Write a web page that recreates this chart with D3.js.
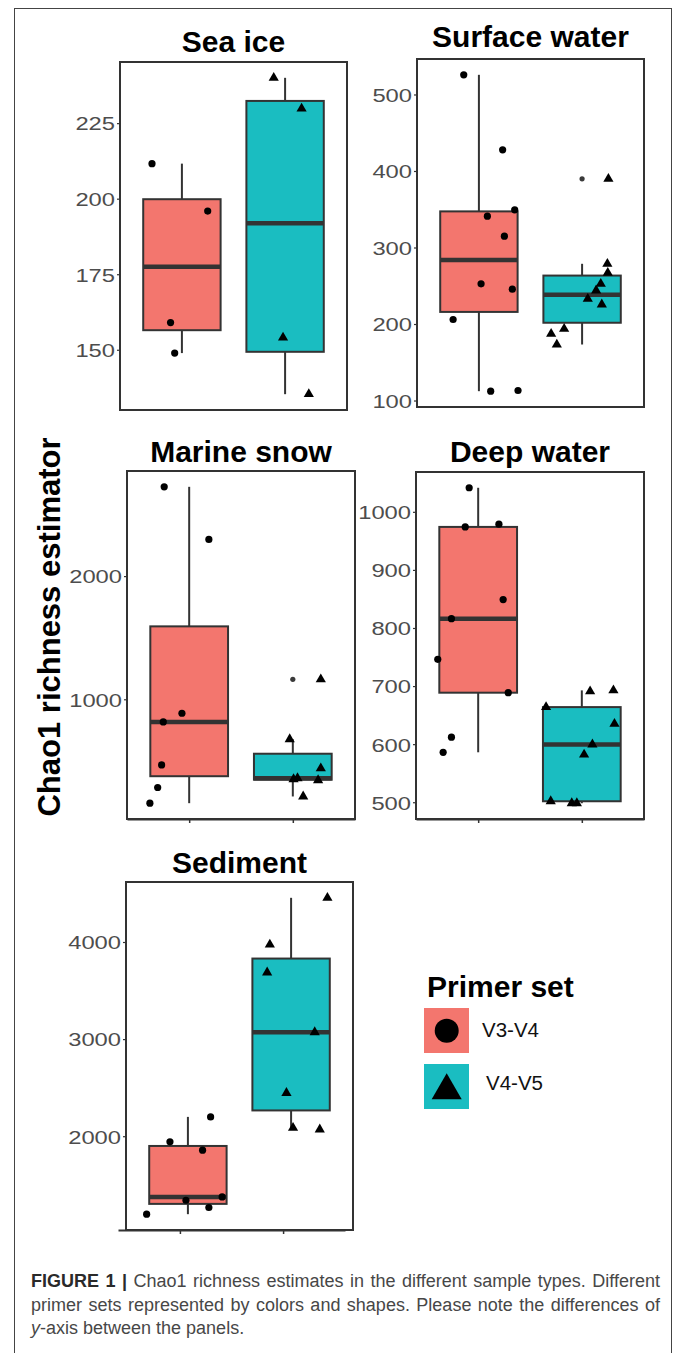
<!DOCTYPE html>
<html>
<head>
<meta charset="utf-8">
<script src="https://cdn.jsdelivr.net/npm/d3@7"></script>
<style>
  body { margin: 0; background: #fff; }
  svg { display: block; font-family: "Liberation Sans", Arial, sans-serif; }
</style>
</head>
<body>
<div id="chart"></div>
<script>
// ---- data ----
var primerSets = ["V3-V4", "V4-V5"];
var sampleTypes = ["Sea ice", "Surface water", "Marine snow", "Deep water", "Sediment"];

// Chao1 estimates, [V3-V4, V4-V5]
var seaIce = [[211.6, 195.9, 159, 148.9], [240, 229.8, 154, 135.3]];
var surfaceWater = [[525.7, 427.7, 349.3, 340.9, 314.8, 252.5, 245.5, 205.9, 112.2, 113.1],
                    [389.8, 278.7, 266.9, 252.5, 243.8, 232.9, 225.5, 193.7, 187.2, 173.2]];
var marineSnow = [[2725, 2297.6, 886.5, 816, 467, 283.9, 156.5],
                  [1162, 676, 440, 359, 351, 343, 211]];
var deepWater = [[1041.4, 974, 978.8, 849, 816, 746, 688.6, 612, 586],
                 [691, 692.6, 663.8, 635, 599.5, 582, 501.7, 498.3, 498.3]];
var sediment = [[2199, 1942.6, 1856.4, 1374.4, 1340.5, 1265.6, 1197],
                [4455, 3973, 3686, 3071, 2445, 2086, 2069]];

// horizontal jitter of each point, in category units
var seaIceJitter = [[-0.29, 0.25, -0.11, -0.07], [-0.11, 0.16, -0.02, 0.23]];
var surfaceWaterJitter = [[-0.147, 0.23, 0.347, 0.082, 0.247, 0.021, 0.324, -0.25, 0.114, 0.379],
                          [0.255, 0.245, 0.249, 0.181, 0.136, 0.055, 0.191, -0.174, -0.3, -0.245]];
var marineSnowJitter = [[-0.241, 0.19, -0.07, -0.25, -0.266, -0.304, -0.379],
                        [0.27, -0.03, 0.27, 0.045, 0.007, 0.244, 0.1]];
var deepWaterJitter = [[-0.087, -0.125, 0.2, 0.241, -0.258, -0.39, 0.29, -0.258, -0.338],
                       [0.08, 0.305, -0.345, 0.315, 0.102, 0.022, -0.3, -0.097, -0.048]];
var sedimentJitter = [[0.22, -0.174, 0.142, 0.332, -0.019, 0.203, -0.4],
                      [0.352, -0.206, -0.232, 0.229, -0.045, 0.019, 0.278]];

// y tick labels
var seaIceTicks = [150, 175, 200, 225];
var surfaceWaterTicks = [100, 200, 300, 400, 500];
var marineSnowTicks = [1000, 2000];
var deepWaterTicks = [500, 600, 700, 800, 900, 1000];
var sedimentTicks = [2000, 3000, 4000];

var yLabel = "Chao1 richness estimator";
var legendTitle = "Primer set";

// ---- layout ----
var width = 673, height = 1353;
var colors = ["#F3766E", "#1ABDC1"];
var ink = "#333333";

var panels = [
  { name: sampleTypes[0], values: seaIce, jitter: seaIceJitter, ticks: seaIceTicks,
    x0: 120, x1: 347, y0: 62, y1: 410, titleY: 52, xAxis: false },
  { name: sampleTypes[1], values: surfaceWater, jitter: surfaceWaterJitter, ticks: surfaceWaterTicks,
    x0: 417, x1: 644, y0: 59, y1: 407, titleY: 47, xAxis: false },
  { name: sampleTypes[2], values: marineSnow, jitter: marineSnowJitter, ticks: marineSnowTicks,
    x0: 127, x1: 355, y0: 471, y1: 819, titleY: 462, xAxis: true, xShift: 0 },
  { name: sampleTypes[3], values: deepWater, jitter: deepWaterJitter, ticks: deepWaterTicks,
    x0: 416, x1: 644, y0: 472, y1: 819, titleY: 462, xAxis: true, xShift: 0 },
  { name: sampleTypes[4], values: sediment, jitter: sedimentJitter, ticks: sedimentTicks,
    x0: 126, x1: 353, y0: 882, y1: 1230, titleY: 873, xAxis: true, xShift: -8 }
];

var svg = d3.select("#chart").append("svg")
  .attr("width", width).attr("height", height);

svg.append("rect").attr("width", width).attr("height", height).attr("fill", "#fff");

// outer figure frame
svg.append("rect")
  .attr("x", 14.5).attr("y", 8.5).attr("width", 657).attr("height", 1360)
  .attr("fill", "none").attr("stroke", "#444").attr("stroke-width", 1);

// ggplot style box statistics
function boxStats(vals) {
  var s = vals.slice().sort(d3.ascending);
  var q1 = d3.quantileSorted(s, 0.25), med = d3.quantileSorted(s, 0.5), q3 = d3.quantileSorted(s, 0.75);
  var iqr = q3 - q1;
  var lo = d3.min(s.filter(function (v) { return v >= q1 - 1.5 * iqr; }));
  var hi = d3.max(s.filter(function (v) { return v <= q3 + 1.5 * iqr; }));
  var out = s.filter(function (v) { return v < lo || v > hi; });
  return { q1: q1, med: med, q3: q3, lo: lo, hi: hi, out: out };
}

var triangle = d3.symbol().type(d3.symbolTriangle).size(45);

panels.forEach(function (p) {
  var g = svg.append("g").attr("class", "panel");

  var all = d3.merge(p.values);
  var ext = d3.extent(all);
  var pad = (ext[1] - ext[0]) * 0.05;

  var x = d3.scaleLinear().domain([0.4, 2.6]).range([p.x0, p.x1]);
  var y = d3.scaleLinear().domain([ext[0] - pad, ext[1] + pad]).range([p.y1, p.y0]);

  g.append("text")
    .attr("x", (p.x0 + p.x1) / 2).attr("y", p.titleY)
    .attr("text-anchor", "middle")
    .attr("font-size", 30).attr("font-weight", "bold").attr("fill", "#000")
    .text(p.name);

  p.values.forEach(function (vals, i) {
    var st = boxStats(vals);
    var cx = x(i + 1);
    var half = x(i + 1 + 0.375) - cx;

    // whiskers
    g.append("line").attr("x1", cx).attr("x2", cx)
      .attr("y1", y(st.hi)).attr("y2", y(st.q3))
      .attr("stroke", ink).attr("stroke-width", 2);
    g.append("line").attr("x1", cx).attr("x2", cx)
      .attr("y1", y(st.q1)).attr("y2", y(st.lo))
      .attr("stroke", ink).attr("stroke-width", 2);

    g.append("rect")
      .attr("x", cx - half).attr("width", half * 2)
      .attr("y", y(st.q3)).attr("height", y(st.q1) - y(st.q3))
      .attr("fill", colors[i]).attr("stroke", ink).attr("stroke-width", 2);

    g.append("line")
      .attr("x1", cx - half).attr("x2", cx + half)
      .attr("y1", y(st.med)).attr("y2", y(st.med))
      .attr("stroke", ink).attr("stroke-width", 4.5);

    // boxplot outliers
    g.selectAll(null).data(st.out).enter().append("circle")
      .attr("cx", cx).attr("cy", function (d) { return y(d); })
      .attr("r", 2.6).attr("fill", "#3a3a3a");

    // jittered points
    var pts = vals.map(function (v, k) { return { v: v, j: p.jitter[i][k] }; });
    if (i === 0) {
      g.selectAll(null).data(pts).enter().append("circle")
        .attr("cx", function (d) { return x(i + 1 + d.j); })
        .attr("cy", function (d) { return y(d.v); })
        .attr("r", 3.6).attr("fill", "#000");
    } else {
      g.selectAll(null).data(pts).enter().append("path")
        .attr("d", triangle)
        .attr("transform", function (d) { return "translate(" + x(i + 1 + d.j) + "," + y(d.v) + ")"; })
        .attr("fill", "#000");
    }
  });

  // panel border
  g.append("rect")
    .attr("x", p.x0).attr("y", p.y0)
    .attr("width", p.x1 - p.x0).attr("height", p.y1 - p.y0)
    .attr("fill", "none").attr("stroke", ink).attr("stroke-width", 2);

  // y axis
  var yAxis = d3.axisLeft(y).tickValues(p.ticks).tickSize(3).tickFormat(d3.format("d"));
  var ya = g.append("g").attr("transform", "translate(" + p.x0 + ",0)").call(yAxis);
  ya.select(".domain").remove();
  ya.selectAll(".tick line").attr("stroke", ink).attr("stroke-width", 1.2);
  ya.selectAll(".tick text")
    .attr("x", -4).attr("dy", "0.36em")
    .attr("transform", "scale(1.25,1)")
    .attr("font-family", "Liberation Sans, Arial, sans-serif")
    .attr("font-size", 19).attr("fill", "#4D4D4D");

  // x axis ticks (no labels)
  if (p.xAxis) {
    var xAxis = d3.axisBottom(x).tickValues([1, 2]).tickSize(4).tickSizeOuter(0).tickFormat("");
    var xa = g.append("g").attr("transform", "translate(" + p.xShift + "," + p.y1 + ")").call(xAxis);
    xa.select(".domain").attr("stroke", ink).attr("stroke-width", 2);
    xa.selectAll(".tick line").attr("stroke", ink).attr("stroke-width", 1.5);
  }
});

// shared y axis title
svg.append("text")
  .attr("transform", "translate(60,627) rotate(-90)")
  .attr("text-anchor", "middle")
  .attr("font-size", 31).attr("font-weight", "bold").attr("fill", "#000")
  .text(yLabel);

// legend
var legend = svg.append("g").attr("class", "legend");
legend.append("text")
  .attr("x", 427).attr("y", 997)
  .attr("font-size", 30).attr("font-weight", "bold").attr("fill", "#000")
  .text(legendTitle);

var keys = legend.selectAll("g.key").data(primerSets).enter().append("g")
  .attr("class", "key")
  .attr("transform", function (d, i) { return "translate(424," + (1008 + i * 56) + ")"; });
keys.append("rect").attr("width", 45).attr("height", 45)
  .attr("fill", function (d, i) { return colors[i]; });
keys.filter(function (d, i) { return i === 0; }).append("circle")
  .attr("cx", 22.7).attr("cy", 22.7).attr("r", 12).attr("fill", "#000");
keys.filter(function (d, i) { return i === 1; }).append("path")
  .attr("d", d3.symbol().type(d3.symbolTriangle).size(390))
  .attr("transform", "translate(22.7,26.5)").attr("fill", "#000");
keys.append("text")
  .attr("x", function (d, i) { return i === 0 ? 58 : 62; })
  .attr("y", function (d, i) { return i === 0 ? 29 : 26; })
  .attr("font-size", 20.5).attr("fill", "#111")
  .text(function (d) { return d; });

// caption
var cap = svg.append("g").attr("transform", "translate(31,0)");
var capSize = 18, capRight = 660 - 31;

var l1 = cap.append("text").attr("y", 1287).attr("font-size", capSize).attr("fill", "#474747");
l1.append("tspan").attr("font-weight", "bold").attr("fill", "#2a2a2a").text("FIGURE 1 | ");
l1.append("tspan").text("Chao1 richness estimates in the different sample types. Different");

var l2 = cap.append("text").attr("y", 1310.5).attr("font-size", capSize).attr("fill", "#474747")
  .text("primer sets represented by colors and shapes. Please note the differences of");

var l3 = cap.append("text").attr("y", 1334).attr("font-size", capSize).attr("fill", "#474747");
l3.append("tspan").attr("font-style", "italic").text("y");
l3.append("tspan").text("-axis between the panels.");

// justify the first two lines like the printed caption
[l1, l2].forEach(function (t) {
  var w = t.node().getComputedTextLength();
  var n = t.text().split(" ").length - 1;
  t.attr("word-spacing", Math.max(0, (capRight - w) / n));
});
</script>
</body>
</html>
